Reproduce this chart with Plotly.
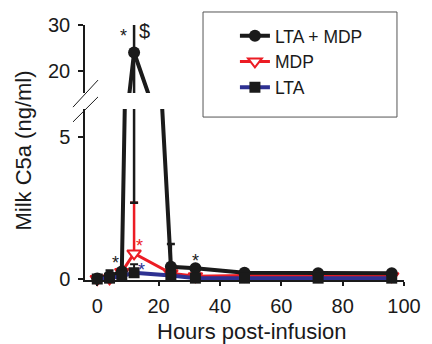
import plotly.graph_objects as go

# ---- data ----
hours = [0, 4, 8, 12, 24, 32, 48, 72, 96]

lta_mdp = [0.02, 0.10, 0.26, 24.0, 0.43, 0.38, 0.22, 0.20, 0.20]
lta_mdp_err_plus = [0, 0.20, 0, 7.0, 0.80, 0, 0, 0, 0]
lta_mdp_err_minus = [0, 0, 0, 21.32, 0, 0, 0, 0, 0]

mdp = [0.0, 0.02, 0.25, 0.90, 0.20, 0.10, 0.12, 0.12, 0.10]
mdp_err_plus = [0, 0, 0, 1.78, 0, 0, 0, 0, 0]

lta = [0.0, 0.03, 0.10, 0.22, 0.12, 0.03, 0.03, 0.03, 0.03]
lta_err_plus = [0, 0, 0, 0.30, 0, 0, 0, 0, 0]

series_names = ["LTA + MDP", "MDP", "LTA"]
x_ticks = [0, 20, 40, 60, 80, 100]
low_ticks = [0, 5]
up_ticks = [20, 30]

BLACK = "#1a1a1a"
RED = "#ec1c24"
BLUE = "#2e3192"
FONT = "Liberation Sans, Arial, Helvetica, sans-serif"

fig = go.Figure()

# lower panel traces (red first so black / squares sit on top)
fig.add_trace(go.Scatter(
    x=hours, y=mdp, name=series_names[1], mode="lines+markers", legendrank=2,
    line=dict(color=RED, width=3),
    marker=dict(symbol="triangle-down", size=12, color="white", line=dict(color=RED, width=2)),
    error_y=dict(type="data", array=mdp_err_plus, arrayminus=[0] * len(hours), symmetric=False,
                 color=RED, thickness=2.5, width=4),
    cliponaxis=False, xaxis="x", yaxis="y"))

fig.add_trace(go.Scatter(
    x=hours, y=lta_mdp, name=series_names[0], mode="lines+markers", legendrank=1,
    line=dict(color=BLACK, width=4),
    marker=dict(symbol="circle", size=12, color=BLACK),
    error_y=dict(type="data", array=lta_mdp_err_plus, arrayminus=lta_mdp_err_minus, symmetric=False,
                 color=BLACK, thickness=2.5, width=4),
    cliponaxis=False, xaxis="x", yaxis="y"))

fig.add_trace(go.Scatter(
    x=hours, y=lta, name=series_names[2], mode="lines+markers", legendrank=3,
    line=dict(color=BLUE, width=4),
    marker=dict(symbol="square", size=11, color=BLACK),
    error_y=dict(type="data", array=lta_err_plus, arrayminus=[0] * len(hours), symmetric=False,
                 color=BLACK, thickness=2, width=4),
    cliponaxis=False, xaxis="x", yaxis="y"))

# upper panel (broken axis part)
fig.add_trace(go.Scatter(
    x=hours, y=lta_mdp, name=series_names[0], mode="lines+markers", showlegend=False,
    line=dict(color=BLACK, width=4),
    marker=dict(symbol="circle", size=12, color=BLACK),
    error_y=dict(type="data", array=lta_mdp_err_plus, arrayminus=lta_mdp_err_minus, symmetric=False,
                 color=BLACK, thickness=2.5, width=4),
    cliponaxis=True, xaxis="x2", yaxis="y2"))

axis_common = dict(showgrid=False, zeroline=False, showline=True, linecolor=BLACK, linewidth=1.5,
                   ticks="outside", tickcolor=BLACK, tickwidth=1.5,
                   tickfont=dict(family=FONT, size=20, color=BLACK))

fig.update_layout(
    width=432, height=344,
    margin=dict(l=85, r=28, t=25, b=64),
    paper_bgcolor="white", plot_bgcolor="white",
    font=dict(family=FONT, color=BLACK),
    xaxis=dict(domain=[0, 1], range=[-4, 100], tickvals=x_ticks, ticklen=4,
               ticklabelstandoff=3, anchor="y", **axis_common),
    yaxis=dict(domain=[0, 0.6706], range=[-0.035, 5.97], tickvals=low_ticks, anchor="x",
               ticklen=5, ticklabelstandoff=4, **axis_common),
    xaxis2=dict(domain=[0, 1], range=[-4, 100], visible=False, anchor="y2", matches="x"),
    yaxis2=dict(domain=[0.733, 1], range=[15.0, 30.1], tickvals=up_ticks, anchor="x2",
                ticklen=5, ticklabelstandoff=4, **axis_common),
    legend=dict(x=0.47, y=1.028, xanchor="left", yanchor="top", bgcolor="rgba(0,0,0,0)",
                font=dict(family=FONT, size=17.5, color=BLACK), tracegroupgap=0),
    showlegend=True,
)

# legend frame and axis-break marks
fig.add_shape(type="rect", xref="paper", yref="paper", x0=0.370, x1=0.978, y0=0.639, y1=1.051,
              line=dict(color="#555555", width=1), fillcolor="rgba(0,0,0,0)")
fig.add_shape(type="line", xref="paper", yref="paper", x0=-0.0376, y0=0.678, x1=0.0408, y1=0.784,
              line=dict(color=BLACK, width=1))
fig.add_shape(type="line", xref="paper", yref="paper", x0=-0.0376, y0=0.620, x1=0.0408, y1=0.718,
              line=dict(color=BLACK, width=1))

# significance markers
ann = [
    dict(x=6.1, y=0.55, text="*", color=BLACK, xref="x", yref="y", size=18),
    dict(x=13.9, y=1.15, text="*", color=RED, xref="x", yref="y", size=18),
    dict(x=14.5, y=0.32, text="*", color=BLUE, xref="x", yref="y", size=18),
    dict(x=31.9, y=0.62, text="*", color=BLACK, xref="x", yref="y", size=18),
    dict(x=8.7, y=27.6, text="*", color=BLACK, xref="x2", yref="y2", size=18),
    dict(x=15.5, y=28.8, text="$", color=BLACK, xref="x2", yref="y2", size=20),
]
for a in ann:
    fig.add_annotation(x=a["x"], y=a["y"], xref=a["xref"], yref=a["yref"], text=a["text"],
                       showarrow=False, font=dict(family=FONT, size=a["size"], color=a["color"]))

# axis titles
fig.add_annotation(x=0.5235, y=-0.200, xref="paper", yref="paper", text="Hours post-infusion",
                   showarrow=False, xanchor="center", yanchor="middle",
                   font=dict(family=FONT, size=22, color=BLACK))
fig.add_annotation(x=-0.194, y=0.508, xref="paper", yref="paper", text="Milk C5a (ng/ml)",
                   showarrow=False, textangle=-90, xanchor="center", yanchor="middle",
                   font=dict(family=FONT, size=22, color=BLACK))

fig.write_html("out.html")
